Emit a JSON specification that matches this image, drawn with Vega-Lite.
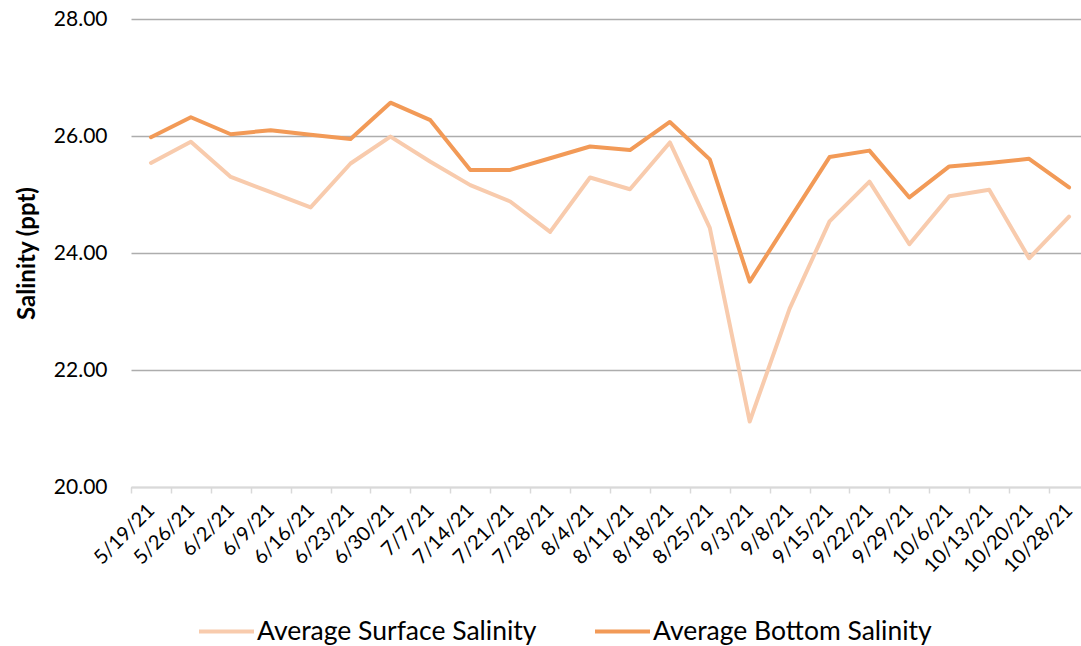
{
  "$schema": "https://vega.github.io/schema/vega-lite/v6.json",
  "width": 958,
  "height": 468,
  "autosize": {"type": "none"},
  "padding": {"left": 131, "top": 19, "right": 0, "bottom": 159},
  "background": "white",
  "config": {
    "view": {"stroke": null},
    "font": "Lato"
  },
  "data": {
    "values": [
      {"date": "5/19/21", "series": "Average Surface Salinity", "value": 25.54},
      {"date": "5/26/21", "series": "Average Surface Salinity", "value": 25.90},
      {"date": "6/2/21", "series": "Average Surface Salinity", "value": 25.30},
      {"date": "6/9/21", "series": "Average Surface Salinity", "value": 25.04},
      {"date": "6/16/21", "series": "Average Surface Salinity", "value": 24.78},
      {"date": "6/23/21", "series": "Average Surface Salinity", "value": 25.53},
      {"date": "6/30/21", "series": "Average Surface Salinity", "value": 25.99},
      {"date": "7/7/21", "series": "Average Surface Salinity", "value": 25.56},
      {"date": "7/14/21", "series": "Average Surface Salinity", "value": 25.16},
      {"date": "7/21/21", "series": "Average Surface Salinity", "value": 24.88},
      {"date": "7/28/21", "series": "Average Surface Salinity", "value": 24.36},
      {"date": "8/4/21", "series": "Average Surface Salinity", "value": 25.29},
      {"date": "8/11/21", "series": "Average Surface Salinity", "value": 25.09},
      {"date": "8/18/21", "series": "Average Surface Salinity", "value": 25.89},
      {"date": "8/25/21", "series": "Average Surface Salinity", "value": 24.43},
      {"date": "9/3/21", "series": "Average Surface Salinity", "value": 21.12},
      {"date": "9/8/21", "series": "Average Surface Salinity", "value": 23.05},
      {"date": "9/15/21", "series": "Average Surface Salinity", "value": 24.54},
      {"date": "9/22/21", "series": "Average Surface Salinity", "value": 25.22},
      {"date": "9/29/21", "series": "Average Surface Salinity", "value": 24.15},
      {"date": "10/6/21", "series": "Average Surface Salinity", "value": 24.97},
      {"date": "10/13/21", "series": "Average Surface Salinity", "value": 25.08},
      {"date": "10/20/21", "series": "Average Surface Salinity", "value": 23.91},
      {"date": "10/28/21", "series": "Average Surface Salinity", "value": 24.62},
      {"date": "5/19/21", "series": "Average Bottom Salinity", "value": 25.98},
      {"date": "5/26/21", "series": "Average Bottom Salinity", "value": 26.32},
      {"date": "6/2/21", "series": "Average Bottom Salinity", "value": 26.03},
      {"date": "6/9/21", "series": "Average Bottom Salinity", "value": 26.10},
      {"date": "6/16/21", "series": "Average Bottom Salinity", "value": 26.02},
      {"date": "6/23/21", "series": "Average Bottom Salinity", "value": 25.95},
      {"date": "6/30/21", "series": "Average Bottom Salinity", "value": 26.57},
      {"date": "7/7/21", "series": "Average Bottom Salinity", "value": 26.27},
      {"date": "7/14/21", "series": "Average Bottom Salinity", "value": 25.42},
      {"date": "7/21/21", "series": "Average Bottom Salinity", "value": 25.42},
      {"date": "7/28/21", "series": "Average Bottom Salinity", "value": 25.62},
      {"date": "8/4/21", "series": "Average Bottom Salinity", "value": 25.82},
      {"date": "8/11/21", "series": "Average Bottom Salinity", "value": 25.76},
      {"date": "8/18/21", "series": "Average Bottom Salinity", "value": 26.24},
      {"date": "8/25/21", "series": "Average Bottom Salinity", "value": 25.60},
      {"date": "9/3/21", "series": "Average Bottom Salinity", "value": 23.51},
      {"date": "9/8/21", "series": "Average Bottom Salinity", "value": 24.58},
      {"date": "9/15/21", "series": "Average Bottom Salinity", "value": 25.64},
      {"date": "9/22/21", "series": "Average Bottom Salinity", "value": 25.75},
      {"date": "9/29/21", "series": "Average Bottom Salinity", "value": 24.95},
      {"date": "10/6/21", "series": "Average Bottom Salinity", "value": 25.48},
      {"date": "10/13/21", "series": "Average Bottom Salinity", "value": 25.54},
      {"date": "10/20/21", "series": "Average Bottom Salinity", "value": 25.61},
      {"date": "10/28/21", "series": "Average Bottom Salinity", "value": 25.12}
    ]
  },
  "mark": {"type": "line", "strokeWidth": 4, "strokeJoin": "round", "strokeCap": "round"},
  "encoding": {
    "x": {
      "field": "date",
      "type": "ordinal",
      "sort": null,
      "bandPosition": 0.5,
      "scale": {"type": "band", "paddingInner": 0, "paddingOuter": 0},
      "axis": {
        "title": null,
        "labelAngle": -45,
        "labelAlign": "right",
        "labelBaseline": "middle",
        "labelFontSize": 20,
        "labelColor": "#000000",
        "labelPadding": 14,
        "tickBand": "extent",
        "tickSize": 6,
        "tickColor": "#D9D9D9",
        "tickWidth": 1.5,
        "domainColor": "#D9D9D9",
        "domainWidth": 1.5,
        "grid": false
      }
    },
    "y": {
      "field": "value",
      "type": "quantitative",
      "scale": {"domain": [20, 28], "nice": false, "zero": false},
      "axis": {
        "title": "Salinity (ppt)",
        "titleFontSize": 24,
        "titleFontWeight": "bold",
        "titleColor": "#000000",
        "titlePadding": 14,
        "values": [20, 22, 24, 26, 28],
        "format": ".2f",
        "labelFontSize": 21,
        "labelColor": "#000000",
        "labelPadding": 24,
        "ticks": false,
        "domain": false,
        "grid": true,
        "gridColor": "#ADADAD",
        "gridWidth": 1.3
      }
    },
    "color": {
      "field": "series",
      "type": "nominal",
      "scale": {
        "domain": ["Average Surface Salinity", "Average Bottom Salinity"],
        "range": ["#F8CBAD", "#F29A57"]
      },
      "legend": {
        "title": null,
        "orient": "none",
        "direction": "horizontal",
        "legendX": 66,
        "legendY": 583,
        "symbolType": "stroke",
        "symbolSize": 3025,
        "symbolStrokeWidth": 4,
        "labelFontSize": 26.5,
        "labelColor": "#000000",
        "labelLimit": 400,
        "labelOffset": 1,
        "columnPadding": 50,
        "symbolOffset": 0
      }
    }
  }
}
